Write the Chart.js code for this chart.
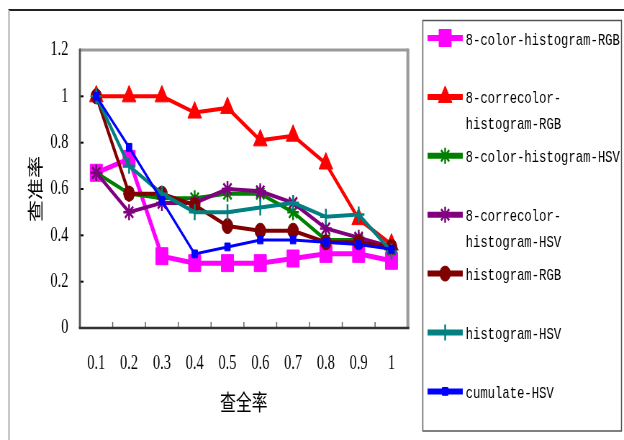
<!DOCTYPE html>
<html><head><meta charset="utf-8">
<script src="https://cdn.jsdelivr.net/npm/chart.js@4.4.1/dist/chart.umd.min.js"></script>
<style>
html,body{margin:0;padding:0;background:#fff;}
#outer{position:relative;width:624px;height:440px;overflow:hidden;background:#fff;}
#frame{position:absolute;left:8px;top:9px;width:640px;height:460px;border-top:2px solid #222;border-left:2px solid #c8c8c8;}
#inner{position:absolute;left:0;top:0;width:867px;height:440px;transform:scaleX(0.7197);transform-origin:0 0;}
canvas{display:block;}
</style></head><body>
<div id="outer"><div id="frame"></div><div id="inner"><canvas id="c" width="867" height="440"></canvas></div></div>
<script>
// ---- data ----
const categories = ['0.1','0.2','0.3','0.4','0.5','0.6','0.7','0.8','0.9','1'];
const yTickLabels = ['0','0.2','0.4','0.6','0.8','1','1.2'];
const seriesNames = [
  ['8-color-histogram-RGB'],
  ['8-correcolor-','histogram-RGB'],
  ['8-color-histogram-HSV'],
  ['8-correcolor-','histogram-HSV'],
  ['histogram-RGB'],
  ['histogram-HSV'],
  ['cumulate-HSV']
];
const colorHistRGB     = [0.67,0.73,0.31,0.28,0.28,0.28,0.30,0.32,0.32,0.29];
const correHistRGB     = [1.00,1.00,1.00,0.93,0.95,0.81,0.83,0.71,0.47,0.36];
const colorHistHSV     = [0.67,0.58,0.56,0.56,0.58,0.58,0.50,0.38,0.38,0.34];
const correHistHSV     = [0.67,0.50,0.54,0.54,0.60,0.59,0.54,0.43,0.39,0.35];
const histRGB          = [1.00,0.58,0.58,0.53,0.44,0.42,0.42,0.37,0.37,0.35];
const histHSV          = [1.00,0.70,0.58,0.50,0.50,0.52,0.54,0.48,0.49,0.33];
const cumulateHSV      = [1.00,0.78,0.55,0.32,0.35,0.38,0.38,0.37,0.36,0.34];
const xTitle = '查全率';
const yTitle = '查准率';

// ---- styles ----
const styles = [
  {c:'#ff00ff', ps:'rect',     r:12,  bw:1,   lw:5},
  {c:'#ff0000', ps:'triangle', r:11,  bw:1,   lw:4},
  {c:'#008000', ps:'star',     r:8,   bw:2.5, lw:4},
  {c:'#800080', ps:'star',     r:8,   bw:2.5, lw:4},
  {c:'#800000', ps:'circle',   r:7.5, bw:1,   lw:4},
  {c:'#008080', ps:'cross',    r:8,   bw:2.5, lw:4},
  {c:'#0000ff', ps:'rect',     r:5.5, bw:1,   lw:3}
];
const seriesData = [colorHistRGB, correHistRGB, colorHistHSV, correHistHSV, histRGB, histHSV, cumulateHSV];

const datasets = seriesData.map((d, i) => ({
  label: seriesNames[i].join(''),
  data: d,
  borderColor: styles[i].c,
  backgroundColor: styles[i].c,
  borderWidth: styles[i].lw,
  pointStyle: styles[i].ps,
  pointRadius: styles[i].r,
  pointBorderWidth: styles[i].bw,
  pointBackgroundColor: styles[i].c,
  pointBorderColor: styles[i].c,
  tension: 0,
  order: seriesData.length - i
}));

const framePlugin = {
  id: 'excelFrame',
  beforeDatasetsDraw(chart) {
    const {ctx, chartArea: a, scales: {x, y}} = chart;
    ctx.save();
    ctx.lineCap = 'butt';
    ctx.strokeStyle = '#000'; ctx.lineWidth = 2;
    for (let i = 0; i < y.ticks.length; i++) {
      const py = y.getPixelForTick(i);
      ctx.beginPath(); ctx.moveTo(a.left, py); ctx.lineTo(a.left + 5, py); ctx.stroke();
    }
    ctx.strokeStyle = '#666'; ctx.lineWidth = 1.5;
    for (let i = 1; i < categories.length; i++) {
      const px = (x.getPixelForTick(i - 1) + x.getPixelForTick(i)) / 2;
      ctx.beginPath(); ctx.moveTo(px, a.bottom); ctx.lineTo(px, a.bottom - 6); ctx.stroke();
    }
    ctx.strokeStyle = '#9a9a9a'; ctx.lineWidth = 3;
    ctx.beginPath(); ctx.moveTo(a.left, a.top); ctx.lineTo(a.right, a.top); ctx.stroke();
    ctx.lineWidth = 4;
    ctx.beginPath(); ctx.moveTo(a.right, a.top - 1.5); ctx.lineTo(a.right, a.bottom); ctx.stroke();
    ctx.strokeStyle = '#555'; ctx.lineWidth = 2.8;
    ctx.beginPath(); ctx.moveTo(a.left, a.top - 1.5); ctx.lineTo(a.left, a.bottom); ctx.stroke();
    ctx.strokeStyle = '#333'; ctx.lineWidth = 2.5;
    ctx.beginPath(); ctx.moveTo(a.left - 1.4, a.bottom); ctx.lineTo(a.right + 2, a.bottom); ctx.stroke();
    ctx.restore();
  },
  afterDraw(chart) {
    const {ctx} = chart;
    ctx.save();
    ctx.strokeStyle = '#555'; ctx.lineWidth = 1.5;
    ctx.strokeRect(587.5, 20.5, 276, 410.5);
    ctx.font = '17px "Liberation Mono", monospace';
    ctx.textAlign = 'left'; ctx.textBaseline = 'middle';
    chart.data.datasets.forEach((ds, i) => {
      const cy = 38 + i * 58.9;
      ctx.strokeStyle = ds.borderColor; ctx.lineWidth = 6;
      ctx.beginPath(); ctx.moveTo(594, cy); ctx.lineTo(643, cy); ctx.stroke();
      ctx.fillStyle = ds.pointBackgroundColor; ctx.strokeStyle = ds.pointBorderColor;
      ctx.lineWidth = ds.pointBorderWidth;
      if (Chart.helpers && Chart.helpers.drawPoint) {
        Chart.helpers.drawPoint(ctx, {pointStyle: ds.pointStyle, radius: ds.pointRadius, rotation: 0, borderWidth: ds.pointBorderWidth}, 618.5, cy);
      }
      ctx.fillStyle = '#000';
      seriesNames[i].forEach((t, k) => ctx.fillText(t, 647, cy + 2 + k * 26));
    });
    ctx.restore();
  }
};

new Chart(document.getElementById('c'), {
  type: 'line',
  data: {labels: categories, datasets},
  options: {
    responsive: false,
    devicePixelRatio: 1,
    animation: false,
    events: [],
    layout: {padding: {left: 0, top: 50, right: 300.3, bottom: 0}},
    plugins: {legend: {display: false}, tooltip: {enabled: false}},
    scales: {
      x: {
        type: 'category',
        offset: true,
        grid: {display: false, drawTicks: false},
        border: {display: false},
        ticks: {color: '#000', padding: 24, maxRotation: 0, font: {family: '"Liberation Serif", serif', size: 20}},
        title: {display: true, text: xTitle, color: '#000', padding: {top: 0, bottom: 25}, font: {family: '"Noto Sans CJK SC", sans-serif', size: 22}},
        afterFit(s) { s.height = 112; }
      },
      y: {
        min: 0, max: 1.2,
        grid: {display: false, drawTicks: false},
        border: {display: false},
        ticks: {stepSize: 0.2, color: '#000', padding: 16, font: {family: '"Liberation Serif", serif', size: 20},
          callback: (v, i) => yTickLabels[i]},
        title: {display: true, text: yTitle, color: '#000', padding: {top: 35, bottom: 0}, font: {family: '"Noto Sans CJK SC", sans-serif', size: 22}},
        afterFit(s) { s.width = 111; }
      }
    }
  },
  plugins: [framePlugin]
});
</script>
</body></html>
